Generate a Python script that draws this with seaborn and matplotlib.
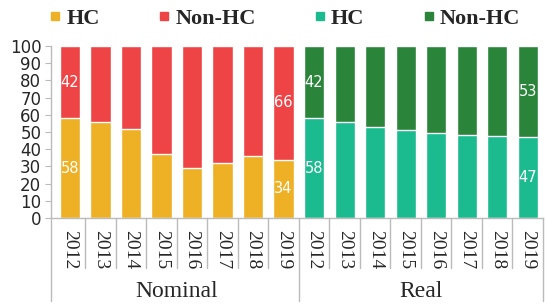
import matplotlib
matplotlib.use("Agg")
import matplotlib.pyplot as plt
from matplotlib.lines import Line2D
import seaborn as sns
import pandas as pd

# ---- data ----
years = ["2012", "2013", "2014", "2015", "2016", "2017", "2018", "2019"]
groups = ["Nominal", "Real"]
nominal_hc = [58, 56, 52, 37, 29, 32, 36, 34]
real_hc = [58, 56, 53, 51, 49.5, 48.5, 47.5, 47]
legend_labels = ["HC", "Non-HC", "HC", "Non-HC"]
# labels shown on first and last bar of each group
shown_labels = {("Nominal", "2012"), ("Nominal", "2019"), ("Real", "2012"), ("Real", "2019")}

hc_colors = {"Nominal": "#EEB024", "Real": "#1CBA8F"}
non_colors = {"Nominal": "#EE4446", "Real": "#2A843A"}

rows = []
for g, vals in zip(groups, [nominal_hc, real_hc]):
    for y, v in zip(years, vals):
        rows.append({"key": f"{g} {y}", "group": g, "year": y, "hc": v, "non": 100 - v, "total": 100})
df = pd.DataFrame(rows)
order = list(df["key"])

sns.set_style("white")
plt.rcParams["font.family"] = ["DejaVu Sans"]

fig = plt.figure(figsize=(5.47, 3.04), dpi=100)
ax = fig.add_axes([51 / 547, 1 - 218 / 304, (543 - 51) / 547, (218 - 46) / 304])

top_pal = {k: non_colors[g] for k, g in zip(df["key"], df["group"])}
bot_pal = {k: hc_colors[g] for k, g in zip(df["key"], df["group"])}

sns.barplot(data=df, x="key", y="total", hue="key", palette=top_pal, order=order,
            legend=False, width=0.66, ax=ax, saturation=1)
sns.barplot(data=df, x="key", y="hc", hue="key", palette=bot_pal, order=order,
            legend=False, width=0.66, ax=ax, saturation=1)

# data labels
for i, r in df.iterrows():
    if (r["group"], r["year"]) in shown_labels:
        ax.text(i, r["hc"] / 2, f"{r['hc']:g}", ha="center", va="center",
                color="white", fontsize=10.5)
        ax.text(i, r["hc"] + r["non"] / 2, f"{r['non']:g}", ha="center", va="center",
                color="white", fontsize=10.5)

ax.set_ylim(0, 100)
ax.set_xlim(-0.62, len(order) - 0.5)
ax.set_yticks(range(0, 101, 10))
ax.tick_params(axis="y", length=4, color="#BBBBBB", labelsize=12, pad=3, direction="out", left=True)
ax.set_xticks(range(len(order)))
ax.set_xticklabels(list(df["year"]), rotation=-90, family="Liberation Serif", fontsize=14)
ax.tick_params(axis="x", length=0, pad=9)
ax.set_xlabel("")
ax.set_ylabel("")
for s in ["top", "right"]:
    ax.spines[s].set_visible(False)
for s in ["left", "bottom"]:
    ax.spines[s].set_color("#BBBBBB")
    ax.spines[s].set_linewidth(1)

# category separators
trans = ax.get_xaxis_transform()
n_per = len(years)
for i in range(len(order) - 1):
    if (i + 1) % n_per == 0:
        continue
    ax.plot([i + 0.5, i + 0.5], [0, -0.29], transform=trans, color="#BBBBBB", lw=1, clip_on=False)
for xg in [-0.62, n_per - 0.5, len(order) - 0.5]:
    ax.plot([xg, xg], [0, -0.48], transform=trans, color="#BBBBBB", lw=1, clip_on=False)

# group labels
for gi, g in enumerate(groups):
    ax.text(gi * n_per + (n_per - 1) / 2, -0.425, g, transform=trans, ha="center", va="center",
            family="Liberation Serif", fontsize=17)

# legend
leg_colors = [hc_colors["Nominal"], non_colors["Nominal"], hc_colors["Real"], non_colors["Real"]]
handles = [Line2D([], [], marker="s", ls="", markersize=6, color=c) for c in leg_colors]
fig.legend(handles, legend_labels, loc="center", bbox_to_anchor=(0.52, 1 - 19 / 304), ncol=4,
           frameon=False, prop={"family": "Liberation Serif", "weight": "bold", "size": 16},
           handletextpad=0.2, columnspacing=2.6, handlelength=0.6, borderpad=0)

fig.savefig("out.png", dpi=100)
